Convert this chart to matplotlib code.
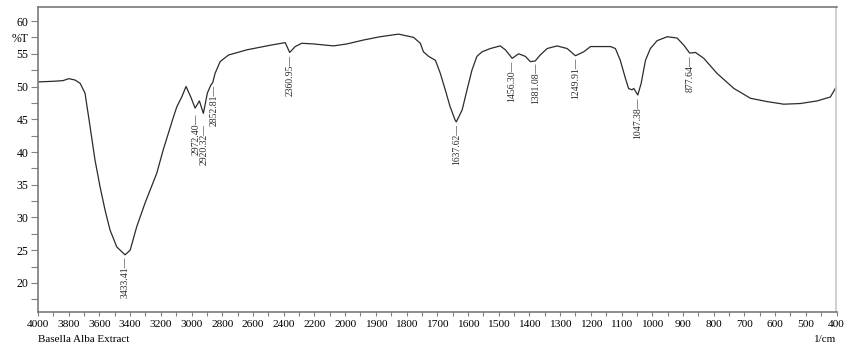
import numpy as np
import matplotlib
matplotlib.use('Agg')
import matplotlib.pyplot as plt
from matplotlib.ticker import FixedLocator

# FTIR spectrum (wavenumber, %T)
wavenumber = [4000, 3900, 3837, 3800, 3760, 3726, 3694, 3661, 3629, 3596,
              3563, 3531, 3487, 3433, 3400, 3357, 3303, 3226, 3185, 3120,
              3096, 3064, 3036, 3005, 2977, 2949, 2923, 2897, 2875, 2862,
              2847, 2814, 2760, 2640, 2488, 2390, 2361, 2325, 2282, 2206,
              2076, 1994, 1940, 1886, 1826, 1777, 1755, 1745, 1728, 1706,
              1690, 1674, 1658, 1642, 1638, 1619, 1603, 1587, 1571, 1554,
              1527, 1495, 1478, 1456, 1435, 1413, 1397, 1381, 1365, 1342,
              1310, 1277, 1250, 1223, 1201, 1158, 1136, 1120, 1104, 1087,
              1077, 1066, 1060, 1047, 1036, 1022, 1006, 984, 951, 919,
              897, 878, 859, 832, 789, 734, 680, 626, 572, 518,
              463, 420, 400]
transmittance = [50.7, 50.8, 50.9, 51.2, 51.0, 50.5, 49.0, 43.9, 38.8, 34.7,
                 31.1, 28.1, 25.5, 24.3, 25.0, 28.6, 32.2, 36.8, 40.3, 45.2,
                 46.9, 48.4, 50.0, 48.4, 46.7, 47.8, 45.9, 49.0, 50.2, 50.6,
                 52.0, 53.8, 54.8, 55.6, 56.3, 56.7, 55.2, 56.1, 56.6, 56.5,
                 56.2, 56.5, 57.1, 57.6, 58.0, 57.5, 56.6, 55.3, 54.6, 54.0,
                 52.0, 49.5, 46.9, 44.9, 44.6, 46.4, 49.5, 52.5, 54.6, 55.3,
                 55.8, 56.2, 55.6, 54.3, 55.0, 54.6, 53.8, 53.9, 54.8, 55.8,
                 56.2, 55.8, 54.7, 55.3, 56.1, 56.1, 56.1, 55.8, 54.0, 51.2,
                 49.7, 49.5, 49.7, 48.7, 50.5, 54.0, 55.8, 57.0, 57.6, 57.4,
                 56.3, 55.1, 55.2, 54.3, 52.0, 49.7, 48.2, 47.7, 47.3, 47.4,
                 47.8, 48.4, 50.0]

# labelled peaks
peak_wn = [3433.41, 2972.40, 2920.32, 2852.81, 2360.95, 1637.62,
           1456.30, 1381.08, 1249.91, 1047.38, 877.64]
peak_t = [24.3, 46.7, 45.9, 50.6, 55.2, 44.6, 54.3, 53.9, 54.7, 48.7, 55.1]

x_major = [4000, 3800, 3600, 3400, 3200, 3000, 2800, 2600, 2400, 2200, 2000,
           1900, 1800, 1700, 1600, 1500, 1400, 1300, 1200, 1100, 1000,
           900, 800, 700, 600, 500, 400]
y_ticks = [17.5, 20, 22.5, 25, 27.5, 30, 32.5, 35, 37.5, 40, 42.5, 45,
           47.5, 50, 52.5, 55, 57.5, 60]
y_labels = ['', '20', '', '25', '', '30', '', '35', '', '40', '', '45',
            '', '50', '', '55', '%T', '60']

plt.rcParams['font.family'] = ['Liberation Serif', 'DejaVu Serif']


# instrument axis: 200 cm-1 per division above 2000, 100 below
def fwd(x):
    x = np.asarray(x, dtype=float)
    return np.where(x <= 2000, x / 100.0, 20 + (x - 2000) / 200.0)


def inv(f):
    f = np.asarray(f, dtype=float)
    return np.where(f <= 20, f * 100.0, 2000 + (f - 20) * 200.0)


fig = plt.figure(figsize=(8.48, 3.45), dpi=100)
ax = fig.add_axes([38 / 848, 1 - 312 / 345, (836.5 - 38) / 848, (312 - 7) / 345])

ax.set_xscale('function', functions=(fwd, inv))
ax.plot(wavenumber, transmittance, color='#2b2b2b', linewidth=0.9)

ax.set_xlim(4000, 400)
ax.set_ylim(15.57, 62.14)

ax.xaxis.set_major_locator(FixedLocator(x_major))
ax.set_xticklabels([str(v) for v in x_major])
mids = [(a + b) / 2 for a, b in zip(x_major[:-1], x_major[1:])]
ax.xaxis.set_minor_locator(FixedLocator(mids))
ax.set_yticks(y_ticks)
ax.set_yticklabels(y_labels)

ax.tick_params(axis='x', which='both', direction='out', length=3,
               width=0.8, color='#808080', labelsize=8.2, pad=3)
ax.tick_params(axis='y', which='both', direction='out', length=5,
               width=0.8, color='#808080', labelsize=8.5, pad=2)

for side in ['left', 'bottom', 'top']:
    ax.spines[side].set_color('#7a7a7a')
    ax.spines[side].set_linewidth(1.2)
ax.spines['right'].set_color('#c8c8c8')
ax.spines['right'].set_linewidth(1.2)

# the two close C-H bands are staggered so their labels don't collide
drop = {2972.40: -4, 2920.32: -8}
for wn, t in zip(peak_wn, peak_t):
    ax.annotate(f'{wn:.2f}\u2014', xy=(wn, t), xytext=(0, drop.get(wn, -1.5)),
                textcoords='offset points', rotation=90,
                ha='center', va='top', fontsize=7, color='#2b2b2b')

fig.text(38 / 848, 1 - 340 / 345, 'Basella Alba Extract', fontsize=8,
         ha='left', va='center')
fig.text(836 / 848, 1 - 340 / 345, '1/cm', fontsize=8,
         ha='right', va='center')

fig.savefig('out.png', dpi=100, facecolor='white')
